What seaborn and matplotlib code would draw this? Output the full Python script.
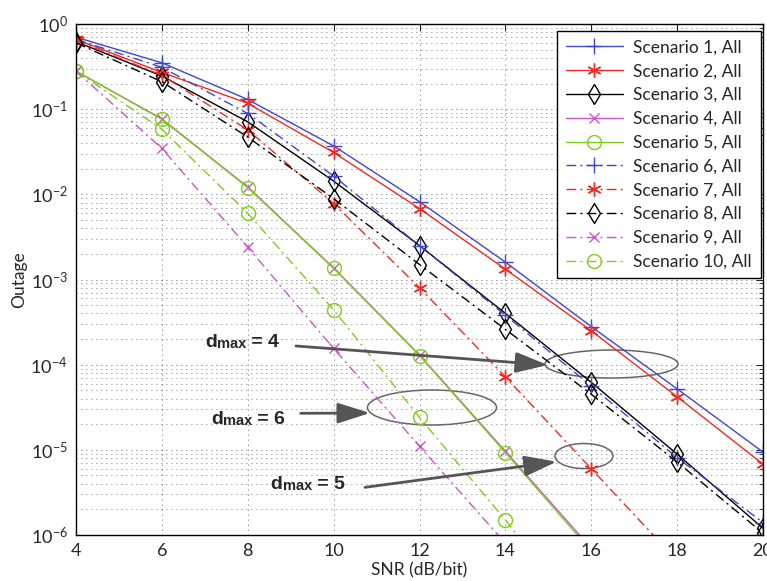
import numpy as np
import pandas as pd
import matplotlib
matplotlib.use("Agg")
import matplotlib.pyplot as plt
from matplotlib.patches import Ellipse
import seaborn as sns

# SNR grid (dB/bit)
snr = [4, 6, 8, 10, 12, 14, 16, 18, 20]

# outage probability
s1 = [0.70, 0.35, 0.13, 0.037, 0.0082, 0.0016, 2.8e-4, 5.2e-5, 9.4e-6]
s2 = [0.66, 0.27, 0.117, 0.031, 0.0068, 0.00132, 2.5e-4, 4.2e-5, 6.8e-6]
s3 = [0.62, 0.245, 0.071, 0.0143, 0.0025, 4.0e-4, 6.2e-5, 8.9e-6, 1.2e-6]
s4 = [0.28, 0.077, 0.0122, 0.00137, 1.3e-4, 9.6e-6, 7e-7]
s5 = [0.28, 0.076, 0.012, 0.00135, 1.28e-4, 9.3e-6, 6.5e-7]
s6 = [0.66, 0.31, 0.089, 0.0164, 0.0025, 3.8e-4, 5.6e-5, 8.1e-6, 1.4e-6]
s7 = [0.64, 0.25, 0.057, 0.0078, 8.0e-4, 7.2e-5, 6.0e-6, 5e-7]
s8 = [0.60, 0.21, 0.047, 0.0089, 0.0015, 2.6e-4, 4.5e-5, 7.2e-6, 1.05e-6]
s9 = [0.28, 0.0346, 0.0024, 1.55e-4, 1.1e-5, 8e-7]
s10 = [0.28, 0.058, 0.006, 4.4e-4, 2.4e-5, 1.5e-6, 8e-8]

series = [s1, s2, s3, s4, s5, s6, s7, s8, s9, s10]
labels = ["Scenario %d, All" % (i + 1) for i in range(10)]

colors = ["#3f48c8", "#ee2b24", "#000000", "#cc55cc", "#7fcc1f"] * 2
markers = ["+", (6, 2, 0), "d", "x", "o"] * 2
msizes = [11, 10, 10.5, 7, 10] * 2
dashdot = (0, (7, 3, 1.5, 3))
styles = ["-"] * 5 + [dashdot] * 5

sns.set_style("white")
plt.rcParams["font.family"] = ["Lato", "DejaVu Sans"]
plt.rcParams["mathtext.default"] = "regular"

fig = plt.figure(figsize=(7.67, 5.81), dpi=100)
ax = fig.add_axes([76 / 767, 46 / 581, 687 / 767, 511 / 581])

for i, ys in enumerate(series):
    df = pd.DataFrame({"snr": snr[:len(ys)], "out": ys})
    sns.lineplot(data=df, x="snr", y="out", ax=ax, color=colors[i],
                 linestyle=styles[i], marker=markers[i], markersize=msizes[i],
                 markerfacecolor="none", markeredgecolor=colors[i],
                 markeredgewidth=1.0, lw=1.0, label=labels[i])

ax.set_yscale("log")
ax.set_xlim(4, 20)
ax.set_ylim(1e-6, 1)
ax.set_xticks(np.arange(4, 21, 2))
ax.set_xlabel("SNR (dB/bit)", fontsize=12.5, labelpad=2)
ax.set_ylabel("Outage", fontsize=12.5, labelpad=2)
ax.tick_params(which="both", direction="in", top=True, right=True, labelsize=13)
ax.tick_params(which="major", length=5, pad=6)
ax.tick_params(which="minor", length=3)
for sp in ax.spines.values():
    sp.set_color("black")
    sp.set_linewidth(1.0)

ax.grid(True, which="major", axis="both", color="k", linestyle=(0, (1, 5)), lw=0.6, alpha=0.8)
ax.grid(True, which="minor", axis="y", color="k", linestyle=(0, (1, 5)), lw=0.6, alpha=0.7)

leg = ax.legend(loc="upper right", bbox_to_anchor=(0.9966, 0.9869), borderaxespad=0,
                fontsize=12.5, handlelength=3.3, handletextpad=0.6, labelspacing=0.45,
                fancybox=False, framealpha=1, edgecolor="black", borderpad=0.5)
leg.get_frame().set_linewidth(1.0)

# annotations
grey = "#555555"
for (x0, y0), (x1, y1) in [((0.3202, 0.3699), (0.6870, 0.3327)),
                           ((0.3271, 0.2382), (0.4279, 0.2387)),
                           ((0.4207, 0.0933), (0.6997, 0.1434))]:
    ax.annotate("", xy=(x1, y1), xytext=(x0, y0), xycoords="axes fraction",
                arrowprops=dict(arrowstyle="-|>,head_length=1.1,head_width=0.35",
                                color=grey, lw=2, mutation_scale=18, shrinkA=0, shrinkB=0))

for (cx, cy), w, h in [((0.7795, 0.3346), 0.1936, 0.0548),
                       ((0.5182, 0.2495), 0.1878, 0.0685),
                       ((0.7394, 0.1546), 0.0844, 0.0489)]:
    ax.add_patch(Ellipse((cx, cy), w, h, transform=ax.transAxes, fill=False,
                         ec="#666666", lw=1.1))

for (tx, ty), val in [((0.1878, 0.3685), "4"), ((0.1965, 0.2172), "6"), ((0.2834, 0.0894), "5")]:
    t1 = ax.text(tx, ty, "d", transform=ax.transAxes, fontsize=14, fontweight="bold",
                 family="Liberation Sans", va="baseline")
    t2 = ax.annotate("max", xy=(1, 0), xycoords=t1, fontsize=10.5, fontweight="bold",
                     family="Liberation Sans", va="bottom")
    ax.annotate(" = " + val, xy=(1, 0), xycoords=t2, fontsize=14, fontweight="bold",
                family="Liberation Sans", va="bottom")

fig.savefig("out.png", dpi=100)
